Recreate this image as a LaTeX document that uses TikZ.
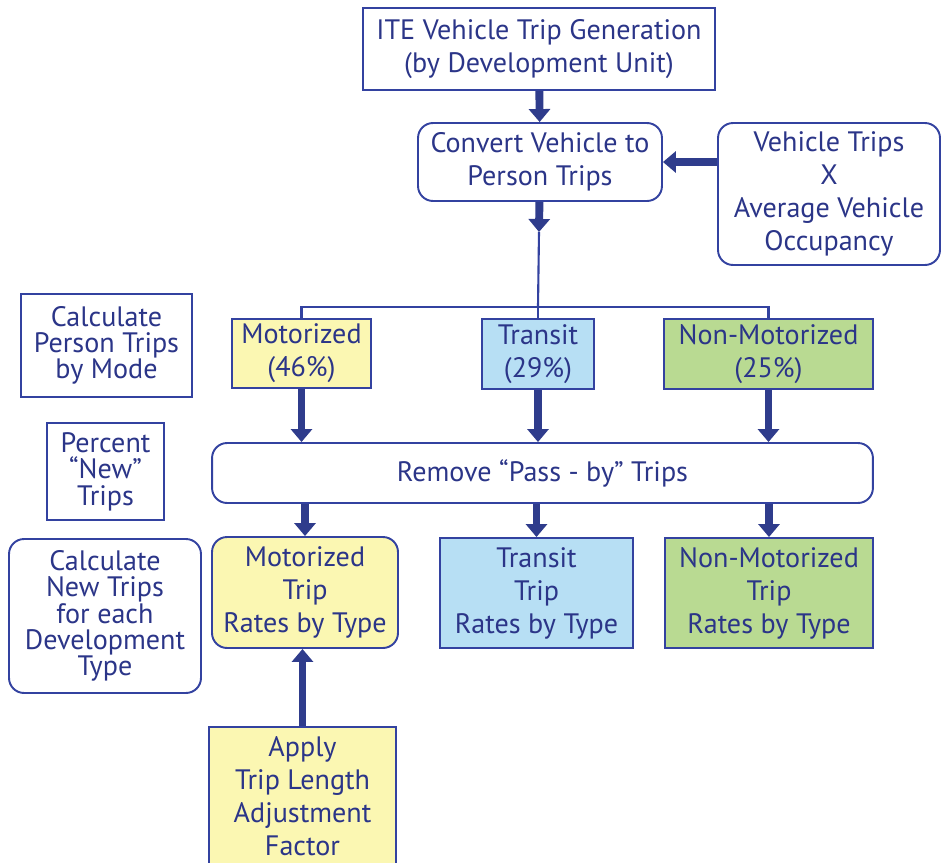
\documentclass[tikz,border=0pt]{standalone}
\usepackage{fontspec}
\setmainfont{PT Sans}
\usetikzlibrary{arrows.meta}

\definecolor{navy}{HTML}{2B3588}
\definecolor{edgeblue}{HTML}{3342A0}
\definecolor{arrowblue}{HTML}{2F3C8C}
\definecolor{paleyellow}{HTML}{FBF7B2}
\definecolor{paleblue}{HTML}{B7DFF4}
\definecolor{palegreen}{HTML}{B9DA92}

\begin{document}
\begin{tikzpicture}[x=0.02cm, y=-0.02cm,
  box/.style={draw=edgeblue, line width=1.1pt, align=center, text=navy,
    inner sep=0pt, font=\fontsize{16}{18.8}\selectfont},
  rbox/.style={box, rounded corners=0.3cm},
  sidebox/.style={font=\fontsize{16}{15}\selectfont},
  fat/.style={draw=arrowblue, line width=4.5pt,
    -{Triangle[width=0.42cm,length=0.26cm]}},
  thin/.style={draw=edgeblue, line width=1.2pt}]

% 1. Frame of the picture (box at the bottom runs off the page)
\clip (0,0) rectangle (941,863);

% 2. Top of the chart
\node[box, minimum width=7.04cm, minimum height=1.64cm] (ite) at (539,49)
  {ITE Vehicle Trip Generation\\(by Development Unit)};
\node[rbox, minimum width=4.88cm, minimum height=1.56cm] (conv) at (540,162)
  {Convert Vehicle to\\Person Trips};
\node[rbox, minimum width=4.44cm, minimum height=2.84cm] (occ) at (829,194)
  {Vehicle Trips\\X\\Average Vehicle\\Occupancy};

% 3. Split by mode
\node[box, sidebox, minimum width=3.42cm, minimum height=2.06cm] (bymode) at (106.5,345.5)
  {Calculate\\Person Trips\\by Mode};
\node[box, fill=paleyellow, minimum width=2.78cm, minimum height=1.38cm] (motor) at (301.5,353.5)
  {Motorized\\(46\%)};
\node[box, fill=paleblue, minimum width=2.24cm, minimum height=1.40cm] (transit) at (538,354)
  {Transit\\(29\%)};
\node[box, fill=palegreen, minimum width=4.18cm, minimum height=1.40cm] (nonmotor) at (768.5,354)
  {Non-Motorized\\(25\%)};

% 4. Pass-by trips
\node[box, sidebox, minimum width=2.34cm, minimum height=1.94cm] (pctnew) at (105.5,471.5)
  {Percent\\“New”\\Trips};
\node[rbox, minimum width=13.22cm, minimum height=1.20cm] (passby) at (542.5,473)
  {Remove “Pass - by” Trips};

% 5. Trip rates by type
\node[rbox, sidebox, minimum width=3.84cm, minimum height=3.08cm] (newtrips) at (105,616)
  {Calculate\\New Trips\\for each\\Development\\Type};
\node[rbox, fill=paleyellow, minimum width=3.72cm, minimum height=2.22cm] (motrate) at (305,592.5)
  {Motorized\\Trip\\Rates by Type};
\node[box, fill=paleblue, minimum width=3.86cm, minimum height=2.20cm] (tranrate) at (536.5,593)
  {Transit\\Trip\\Rates by Type};
\node[box, fill=palegreen, minimum width=4.16cm, minimum height=2.20cm] (nonrate) at (769,593)
  {Non-Motorized\\Trip\\Rates by Type};
\node[box, fill=paleyellow, minimum width=3.74cm, minimum height=2.78cm] (apply) at (302.5,796.5)
  {Apply\\Trip Length\\Adjustment\\Factor};

% 6. Connectors
\coordinate (tip) at (539,232);
\coordinate (split) at (538,307);
\draw[fat] (ite) -- (conv);
\draw[fat] (occ.west |- conv) -- (conv.east);
\draw[fat] (conv) -- (tip);
\draw[thin] (tip) -- (split);
\draw[thin] (motor.north) |- (split) -| (nonmotor.north);
\draw[thin] (split) -- (transit.north);
\draw[fat] (motor) -- (motor |- passby.north);
\draw[fat] (transit) -- (transit |- passby.north);
\draw[fat] (nonmotor) -- (nonmotor |- passby.north);
\draw[fat] (motrate |- passby.south) -- (motrate);
\draw[fat] (tranrate |- passby.south) -- (tranrate);
\draw[fat] (nonrate |- passby.south) -- (nonrate);
\draw[fat] (apply.north) -- (apply.north |- motrate.south);

\end{tikzpicture}
\end{document}
